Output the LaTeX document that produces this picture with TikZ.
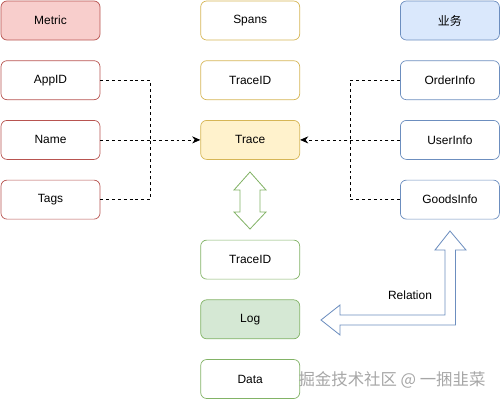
\documentclass[tikz,border=0pt]{standalone}
\usepackage{fontspec}
\setmainfont{Liberation Sans}
\newfontfamily\cjk{Noto Sans CJK SC}
\usetikzlibrary{positioning}
\usetikzlibrary{arrows.meta}

\definecolor{redfill}{HTML}{F8CECC}
\definecolor{redline}{HTML}{B85450}
\definecolor{yellowfill}{HTML}{FFF2CC}
\definecolor{yellowline}{HTML}{D6B656}
\definecolor{greenfill}{HTML}{D5E8D4}
\definecolor{greenline}{HTML}{82B366}
\definecolor{bluefill}{HTML}{DAE8FC}
\definecolor{blueline}{HTML}{6C8EBF}

\tikzset{
  field/.style={draw,fill=white,rounded corners=0.18cm,line width=0.6pt,
    minimum width=2.97cm,minimum height=1.17cm,inner sep=0pt,
    font=\fontsize{10.2}{12}\selectfont},
  metricbox/.style={field,draw=redline},
  tracebox/.style={field,draw=yellowline},
  logbox/.style={field,draw=greenline},
  bizbox/.style={field,draw=blueline},
  link/.style={draw=black,line width=0.6pt,dash pattern=on 2.5pt off 2.5pt},
  linkarrow/.style={link,-{Stealth[length=7pt,width=6pt]}},
  block/.style={fill=white,line width=0.7pt,line join=miter}
}

\begin{document}
\begin{tikzpicture}
\useasboundingbox (0,0) rectangle (15.03,-12.03);

% columns
\node[metricbox,fill=redfill] (metric) at (1.515,-0.615) {Metric};
\node[metricbox,below=0.6cm of metric] (appid) {AppID};
\node[metricbox,below=0.6cm of appid] (name) {Name};
\node[metricbox,below=0.6cm of name] (tags) {Tags};

\node[tracebox,right=3cm of metric] (spans) {Spans};
\node[tracebox,below=0.6cm of spans] (traceid) {TraceID};
\node[tracebox,fill=yellowfill,below=0.6cm of traceid] (trace) {Trace};

\node[logbox,below=2.4cm of trace] (logtraceid) {TraceID};
\node[logbox,fill=greenfill,below=0.6cm of logtraceid] (log) {Log};
\node[logbox,below=0.6cm of log] (data) {Data};

\node[bizbox,fill=bluefill,right=3cm of spans] (biz) {\cjk 业务};
\node[bizbox,below=0.6cm of biz] (orderinfo) {OrderInfo};
\node[bizbox,below=0.6cm of orderinfo] (userinfo) {UserInfo};
\node[bizbox,below=0.6cm of userinfo] (goodsinfo) {GoodsInfo};

% dashed links into Trace
\coordinate[right=1.5cm of name.east] (mleft);
\coordinate[left=1.5cm of userinfo.west] (mright);
\draw[link] (appid.east) -| (mleft);
\draw[link] (tags.east) -| (mleft);
\draw[linkarrow] (name.east) -- (trace.west);
\draw[link] (orderinfo.west) -| (mright);
\draw[link] (goodsinfo.west) -| (mright);
\draw[linkarrow] (userinfo.west) -- (trace.east);

% Trace <-> Log
\draw[block,draw=greenline] (7.5,-5.16) -- (7.98,-5.7) -- (7.8,-5.7) -- (7.8,-6.36)
  -- (7.98,-6.36) -- (7.5,-6.87) -- (7.02,-6.36) -- (7.2,-6.36) -- (7.2,-5.7)
  -- (7.02,-5.7) -- cycle;

% Relation
\draw[block,draw=blueline] (13.5,-6.93) -- (13.98,-7.5) -- (13.665,-7.5) -- (13.665,-9.75)
  -- (10.2,-9.75) -- (10.2,-10.05) -- (9.63,-9.6) -- (10.2,-9.15) -- (10.2,-9.45)
  -- (13.35,-9.45) -- (13.35,-7.5) -- (13.05,-7.5) -- cycle;
\node[font=\fontsize{10.2}{12}\selectfont] (relation) at (12.3,-8.85) {Relation};

\node[font=\cjk\fontsize{14}{16}\selectfont,text=black!35] (mark) at (11.76,-11.4) {掘金技术社区 @ 一捆韭菜};

\end{tikzpicture}
\end{document}
